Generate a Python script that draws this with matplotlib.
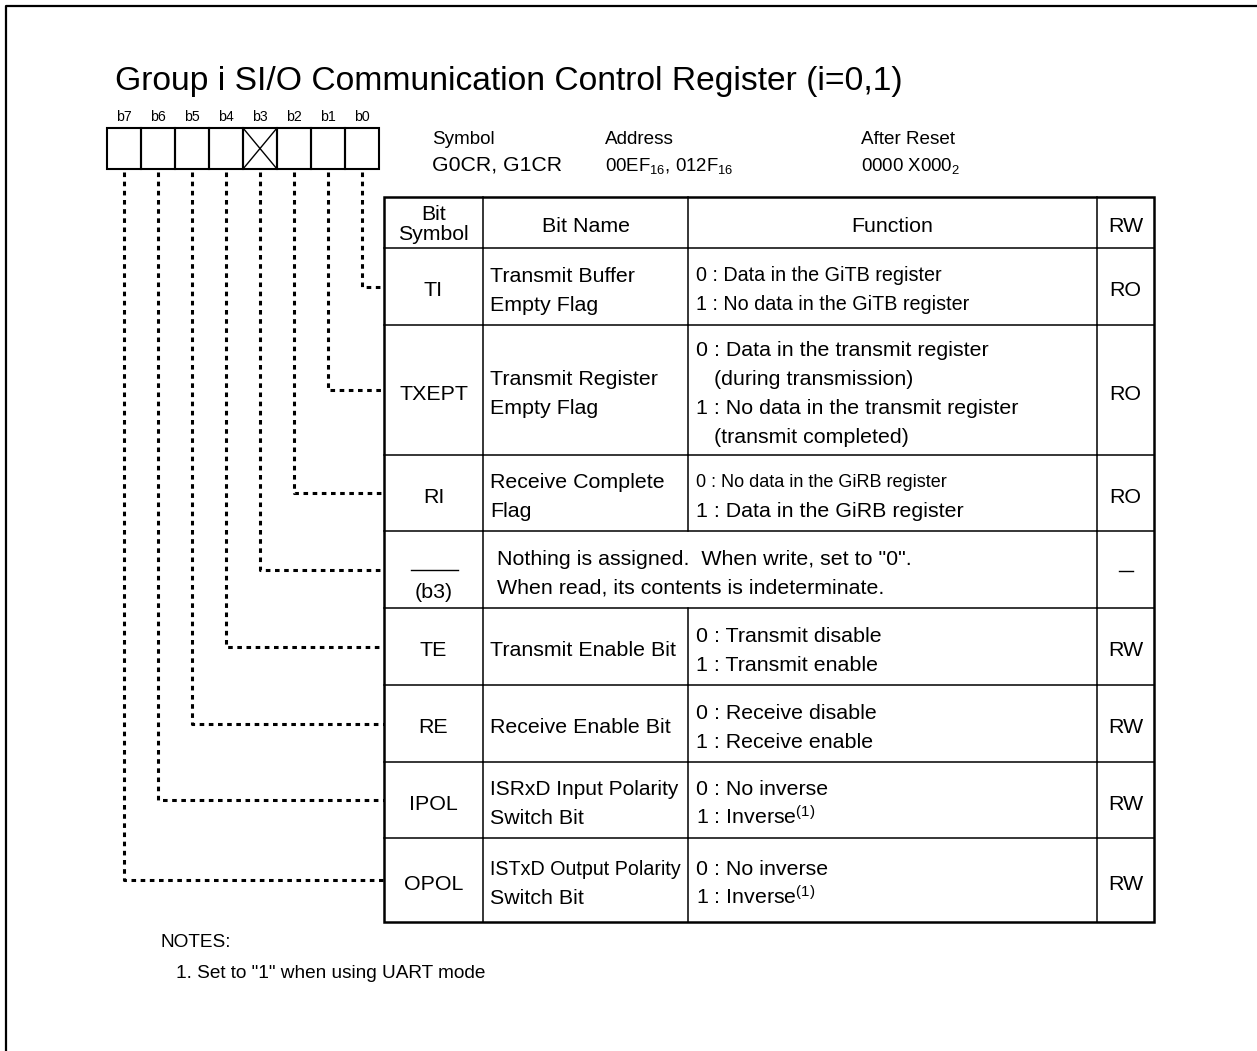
import matplotlib
matplotlib.use("Agg")
import matplotlib.pyplot as plt

plt.rcParams['font.family'] = ['Liberation Sans', 'DejaVu Sans']
plt.rcParams['mathtext.fontset'] = 'custom'
plt.rcParams['mathtext.rm'] = 'Liberation Sans'
plt.rcParams['mathtext.it'] = 'Liberation Sans'

# register data
title = "Group i SI/O Communication Control Register (i=0,1)"
bit_labels = ['b7', 'b6', 'b5', 'b4', 'b3', 'b2', 'b1', 'b0']
reserved_bits = ['b3']
info_heads = ['Symbol', 'Address', 'After Reset']
info_values = ['G0CR, G1CR', r'00EF$_{16}$, 012F$_{16}$', r'0000 X000$_{2}$']
col_heads = ['Bit\nSymbol', 'Bit Name', 'Function', 'RW']

# table rows, b0 first
row_bits = ['b0', 'b1', 'b2', 'b3', 'b4', 'b5', 'b6', 'b7']
symbols = ['TI', 'TXEPT', 'RI', '(b3)', 'TE', 'RE', 'IPOL', 'OPOL']
names = [
    ['Transmit Buffer', 'Empty Flag'],
    ['Transmit Register', 'Empty Flag'],
    ['Receive Complete', 'Flag'],
    None,
    ['Transmit Enable Bit'],
    ['Receive Enable Bit'],
    ['ISRxD Input Polarity', 'Switch Bit'],
    ['ISTxD Output Polarity', 'Switch Bit'],
]
name_sizes = [
    [15.4, 15.4],
    [15.4, 15.4],
    [15.4, 15.4],
    None,
    [15.4],
    [15.4],
    [15.0, 15.4],
    [14.1, 15.4],
]
functions = [
    ['0 : Data in the GiTB register', '1 : No data in the GiTB register'],
    ['0 : Data in the transmit register', '   (during transmission)',
     '1 : No data in the transmit register', '   (transmit completed)'],
    ['0 : No data in the GiRB register', '1 : Data in the GiRB register'],
    ['Nothing is assigned.  When write, set to "0".',
     'When read, its contents is indeterminate.'],
    ['0 : Transmit disable', '1 : Transmit enable'],
    ['0 : Receive disable', '1 : Receive enable'],
    ['0 : No inverse', r'1 : Inverse$^{(1)}$'],
    ['0 : No inverse', r'1 : Inverse$^{(1)}$'],
]
function_sizes = [
    [14.2, 14.2],
    [15.4, 15.4, 15.4, 15.4],
    [13.0, 15.4],
    [15.4, 15.4],
    [15.4, 15.4],
    [15.4, 15.4],
    [15.4, 15.4],
    [15.4, 15.4],
]
rw = ['RO', 'RO', 'RO', '—', 'RW', 'RW', 'RW', 'RW']
row_heights = [77, 130, 76, 77, 77, 77, 76, 84]
notes = ['NOTES:', '1. Set to "1" when using UART mode']

fig = plt.figure(figsize=(12.57, 10.51), dpi=100)
ax = fig.add_axes([0, 0, 1, 1])
ax.set_xlim(0, 1257)
ax.set_ylim(1051, 0)
ax.axis('off')

PX = 100 / 72.0


def put(x, yc, s, size=15.4, ha='left'):
    # place text so that the cap height is centred on yc
    ax.text(x, yc + 0.358 * size * PX, s, fontsize=size, ha=ha, va='baseline', color='black')


# page frame
ax.plot([6, 6, 1257], [1051, 6, 6], color='black', lw=1.6, solid_capstyle='butt')

put(115, 78, title, size=24.2)

# bit boxes
box_x0, cell_w, box_top, box_bot = 107, 34, 128, 169
centres = {}
for i, b in enumerate(bit_labels):
    x0 = box_x0 + i * cell_w
    cx = x0 + cell_w / 2
    centres[b] = cx
    ax.add_patch(plt.Rectangle((x0, box_top), cell_w, box_bot - box_top,
                               fill=False, lw=1.5, ec='black'))
    put(cx, 116, b, size=10.2, ha='center')
    if b in reserved_bits:
        ax.plot([x0, x0 + cell_w], [box_top, box_bot], color='black', lw=1.0)
        ax.plot([x0, x0 + cell_w], [box_bot, box_top], color='black', lw=1.0)

# register info
info_x = [432, 605, 861]
for x, h in zip(info_x, info_heads):
    put(x, 137, h, size=13.6)
put(info_x[0], 163, info_values[0], size=15.3)
put(info_x[1], 164, info_values[1], size=13.4)
put(info_x[2], 164, info_values[2], size=13.4)

# table
tx = [384, 483, 688, 1097, 1154]
t_top, h_bot = 197, 248
row_edges = [h_bot]
for h in row_heights:
    row_edges.append(row_edges[-1] + h)
t_bot = row_edges[-1]

inner = dict(color='black', lw=1.1)
ax.plot([tx[0], tx[-1]], [h_bot, h_bot], **inner)
for y in row_edges[1:-1]:
    ax.plot([tx[0], tx[-1]], [y, y], **inner)
for k in (1, 2, 3):
    for r in range(len(row_heights) + 1):
        ya = t_top if r == 0 else row_edges[r - 1]
        yb = row_edges[r] if r > 0 else h_bot
        if k == 2 and r > 0 and names[r - 1] is None:
            continue
        ax.plot([tx[k], tx[k]], [ya, yb], **inner)
ax.add_patch(plt.Rectangle((tx[0], t_top), tx[-1] - tx[0], t_bot - t_top,
                           fill=False, lw=1.8, ec='black'))

# header
put((tx[0] + tx[1]) / 2, 212, 'Bit', size=15.3, ha='center')
put((tx[0] + tx[1]) / 2, 232, 'Symbol', size=15.3, ha='center')
for k, h in zip((1, 2, 3), col_heads[1:]):
    put((tx[k] + tx[k + 1]) / 2, 224, h, size=15.4, ha='center')

LS = 29
for r in range(len(row_heights)):
    yc = (row_edges[r] + row_edges[r + 1]) / 2 + 2
    sx = (tx[0] + tx[1]) / 2
    if names[r] is None:
        ax.plot([sx - 23, sx + 24], [yc - 2, yc - 2], color='black', lw=1.0)
        put(sx, yc + 19, symbols[r], ha='center')
        fx = 497
    else:
        put(sx, yc, symbols[r], ha='center')
        n = len(names[r])
        for i, s in enumerate(names[r]):
            put(490, yc + (i - (n - 1) / 2) * LS, s, size=name_sizes[r][i])
        fx = 696
    n = len(functions[r])
    for i, s in enumerate(functions[r]):
        put(fx, yc + (i - (n - 1) / 2) * LS, s, size=function_sizes[r][i])
    if rw[r] == '—':
        ax.plot([1119, 1133], [yc - 1, yc - 1], color='black', lw=1.0)
    else:
        put((tx[3] + tx[4]) / 2, yc, rw[r], ha='center')

    # dotted leader from the bit box to the row
    lx = centres[row_bits[r]]
    ly = (row_edges[r] + row_edges[r + 1]) / 2
    ax.plot([lx, lx, tx[0]], [box_bot + 3, ly, ly], color='black', lw=2.2,
            dashes=(1.5, 1.5), dash_capstyle='butt', solid_joinstyle='miter')

put(161, 940, notes[0], size=13.7)
put(176, 971, notes[1], size=13.7)

fig.savefig('out.png', dpi=100)
